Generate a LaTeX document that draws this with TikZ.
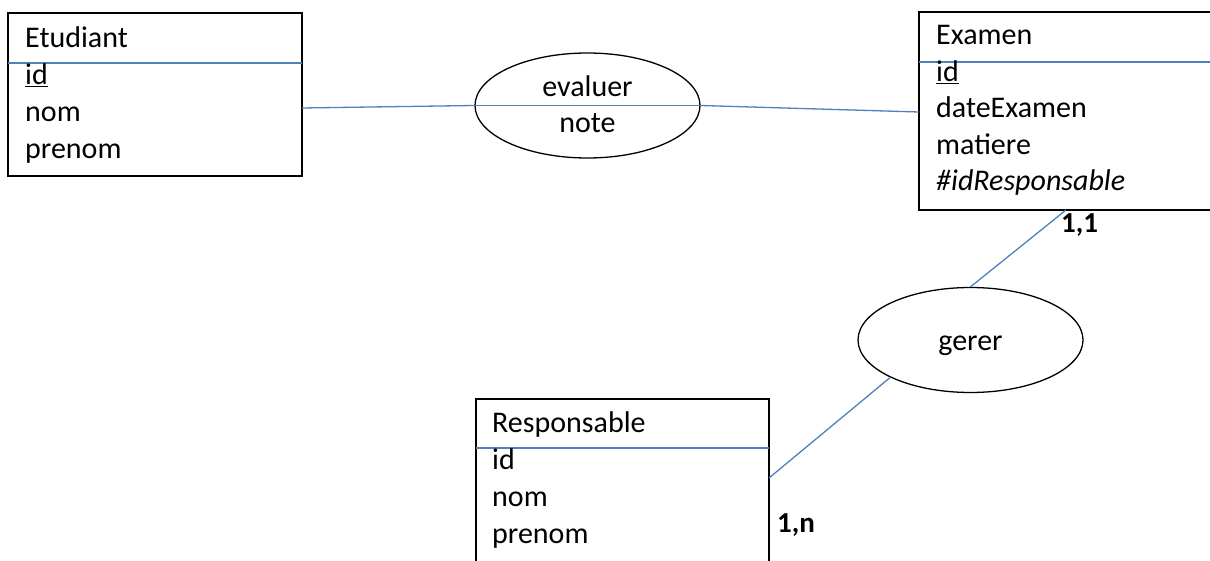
\documentclass[tikz,border=0pt]{standalone}
\usepackage{fontspec}
\setmainfont{Carlito}
\usetikzlibrary{shapes.geometric}
\definecolor{offblue}{RGB}{79,129,189}
\tikzset{
  entbox/.style={draw=black, line width=1.3pt},
  sepline/.style={draw=offblue, line width=1.3pt},
  link/.style={draw=offblue, line width=1.3pt},
  assoc/.style={ellipse, draw=black, line width=1.3pt, inner sep=0pt, minimum width=225pt, minimum height=105pt},
  attr/.style={anchor=base west, inner sep=0pt, font=\fontsize{30}{36}\selectfont},
  ctext/.style={anchor=base, inner sep=0pt, font=\fontsize{30}{36}\selectfont},
  card/.style={anchor=base west, inner sep=0pt, font=\bfseries\fontsize{29}{35}\selectfont}
}
\begin{document}
\begin{tikzpicture}[x=1pt,y=-1pt]
\useasboundingbox (0,0) rectangle (1210,561);
\clip (0,0) rectangle (1210,561);
\fill[white] (0,0) rectangle (1210,561);

% Etudiant
\draw[entbox] (8,13) rectangle (302,176);
\draw[sepline] (8,63) -- (302,63);
\node[attr] (etuT) at (25,48) {Etudiant};
\node[attr] (etuA) at (25,85) {\underline{id}};
\node[attr] (etuB) at (25,122) {nom};
\node[attr] (etuC) at (25,159) {prenom};
\coordinate (etuR) at (302,108);

% Examen
\draw[entbox] (919,12) rectangle (1220,210);
\draw[sepline] (919,62) -- (1220,62);
\node[attr] (exT) at (936,45) {Examen};
\node[attr] (exA) at (936,82) {\underline{id}};
\node[attr] (exB) at (936,118) {dateExamen};
\node[attr] (exC) at (936,155) {matiere};
\node[attr] (exD) at (936,191) {\itshape \#idResponsable};
\coordinate (exL) at (919,112);
\coordinate (exBot) at (1066,210);

% Responsable
\draw[entbox] (476,399) rectangle (769,575);
\draw[sepline] (476,448) -- (769,448);
\node[attr] (reT) at (492,432) {Responsable};
\node[attr] (reA) at (492,469) {id};
\node[attr] (reB) at (492,506) {nom};
\node[attr] (reC) at (492,543) {prenom};
\coordinate (reR) at (769,478);

% associations
\node[assoc] (ev) at (587.5,105.5) {};
\node[ctext] (evT) at (587.5,97) {evaluer};
\node[ctext] (evN) at (587.5,133) {note};
\node[assoc] (gr) at (970.5,340) {};
\node[ctext] (grT) at (970.5,350) {gerer};

% links
\draw[link] (etuR) -- (ev.west);
\draw[link] (ev.west) -- (ev.east);
\draw[link] (ev.east) -- (exL);
\draw[link] (exBot) -- (gr.north);
\draw[link] (gr.205) -- (reR);

% cardinalities
\node[card] (c11) at (1061,233) {1,1};
\node[card] (c1n) at (777,532) {1,n};
\end{tikzpicture}
\end{document}
